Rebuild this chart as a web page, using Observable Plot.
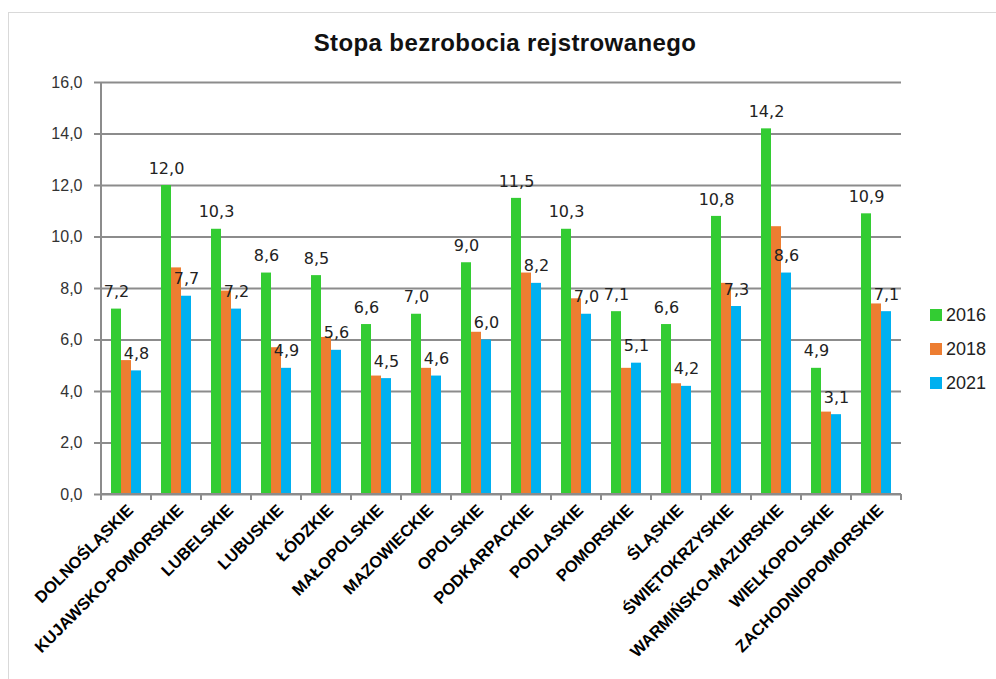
<!DOCTYPE html>
<html>
<head>
<meta charset="utf-8">
<script src="https://cdn.jsdelivr.net/npm/d3@7"></script>
<script src="https://cdn.jsdelivr.net/npm/@observablehq/plot@0.6"></script>
<style>
  html, body { margin: 0; padding: 0; background: #fff; }
  #wrap { position: relative; width: 996px; height: 679px; overflow: hidden; }
  #frame { position: absolute; left: 8px; top: 12px; right: 0; bottom: 0; border-left: 1px solid #d9d9d9; border-top: 1px solid #d9d9d9; }
  #title { position: absolute; left: 0; width: 1010px; top: 29px; text-align: center;
           font-family: "Liberation Sans", sans-serif; font-weight: bold; font-size: 24px; color: #111; letter-spacing: 0.4px; }
  #legend { position: absolute; left: 930px; top: 298px; font-family: "Liberation Sans", sans-serif; font-size: 18px; color: #222; }
  #legend .item { display: flex; align-items: center; height: 34px; }
  #legend .sw { width: 12px; height: 12px; margin-right: 4px; }
  svg { position: absolute; left: 0; top: 0; }
</style>
</head>
<body>
<div id="wrap">
  <div id="frame"></div>
  <div id="title">Stopa bezrobocia rejstrowanego</div>
  <div id="legend"></div>
</div>
<script>
const regions = ["DOLNOŚLĄSKIE","KUJAWSKO-POMORSKIE","LUBELSKIE","LUBUSKIE","ŁÓDZKIE","MAŁOPOLSKIE","MAZOWIECKIE","OPOLSKIE","PODKARPACKIE","PODLASKIE","POMORSKIE","ŚLĄSKIE","ŚWIĘTOKRZYSKIE","WARMIŃSKO-MAZURSKIE","WIELKOPOLSKIE","ZACHODNIOPOMORSKIE"];
const years = ["2016","2018","2021"];
const v2016 = [7.2,12.0,10.3,8.6,8.5,6.6,7.0,9.0,11.5,10.3,7.1,6.6,10.8,14.2,4.9,10.9];
const v2018 = [5.2,8.8,7.9,5.7,6.1,4.6,4.9,6.3,8.6,7.6,4.9,4.3,8.2,10.4,3.2,7.4];
const v2021 = [4.8,7.7,7.2,4.9,5.6,4.5,4.6,6.0,8.2,7.0,5.1,4.2,7.3,8.6,3.1,7.1];
const labeledYears = ["2016","2021"];
const colors = ["#33CC33","#ED7D31","#00B0F0"];
const yTicks = [0,2,4,6,8,10,12,14,16];

const series = {"2016": v2016, "2018": v2018, "2021": v2021};
const data = regions.flatMap((r, i) => years.map(y => ({region: r, year: y, value: series[y][i]})));
const fmt = d => d3.format(".1f")(d).replace(".", ",");

const chart = Plot.plot({
  width: 996, height: 679,
  marginLeft: 100, marginRight: 94, marginTop: 82, marginBottom: 185,
  style: {background: "transparent", overflow: "visible"},
  fx: {domain: regions, padding: 0, label: null, axis: null},
  x: {domain: years, paddingInner: 0, paddingOuter: 0.78, axis: null},
  y: {domain: [0, 16], axis: null, label: null},
  color: {domain: years, range: colors},
  marks: [
    Plot.gridY(yTicks, {stroke: "#8c8c8c", strokeOpacity: 1, strokeWidth: 2}),
    Plot.barY(data, {fx: "region", x: "year", y: "value", fill: "year"}),
    Plot.text(data.filter(d => labeledYears.includes(d.year)), {
      fx: "region", x: "year", y: "value", text: d => fmt(d.value),
      dy: -17, fontSize: 16, fontFamily: "DejaVu Sans", fill: "#222"
    }),
    Plot.axisY({ticks: yTicks, tickFormat: fmt, tickSize: 7, tickPadding: 12, fontSize: 16, label: null,
      fontFamily: "Liberation Sans, sans-serif", fill: "#333", stroke: "#8c8c8c", strokeWidth: 2, strokeOpacity: 1}),
    Plot.axisFx({anchor: "bottom", label: null, tickSize: 0, tickRotate: -45, tickPadding: 13, fontSize: 16.5, fontWeight: "bold",
      fontFamily: "Liberation Sans, sans-serif", fill: "#000", dx: 4})
  ]
});

// axis line and category-boundary ticks, positioned through the plot's own scales
const fx = chart.scale("fx");
const ys = chart.scale("y");
const y0 = ys.apply(0), y16 = ys.apply(16);
const starts = regions.map(r => fx.apply(r));
const bounds = [...starts, starts[starts.length - 1] + fx.bandwidth];
const left = bounds[0], right = bounds[bounds.length - 1];
const g = d3.select(chart).append("g").attr("stroke", "#8c8c8c").attr("stroke-width", 2);
g.append("line").attr("x1", left).attr("x2", left).attr("y1", y16).attr("y2", y0);
g.append("line").attr("x1", left).attr("x2", right).attr("y1", y0).attr("y2", y0);
g.selectAll("line.b").data(bounds).join("line").attr("class", "b")
  .attr("x1", d => d).attr("x2", d => d).attr("y1", y0).attr("y2", y0 + 6);

document.getElementById("wrap").appendChild(chart);

const legend = d3.select("#legend");
years.forEach((y, i) => {
  const it = legend.append("div").attr("class", "item");
  it.append("div").attr("class", "sw").style("background", colors[i]);
  it.append("span").text(y);
});
</script>
</body>
</html>
